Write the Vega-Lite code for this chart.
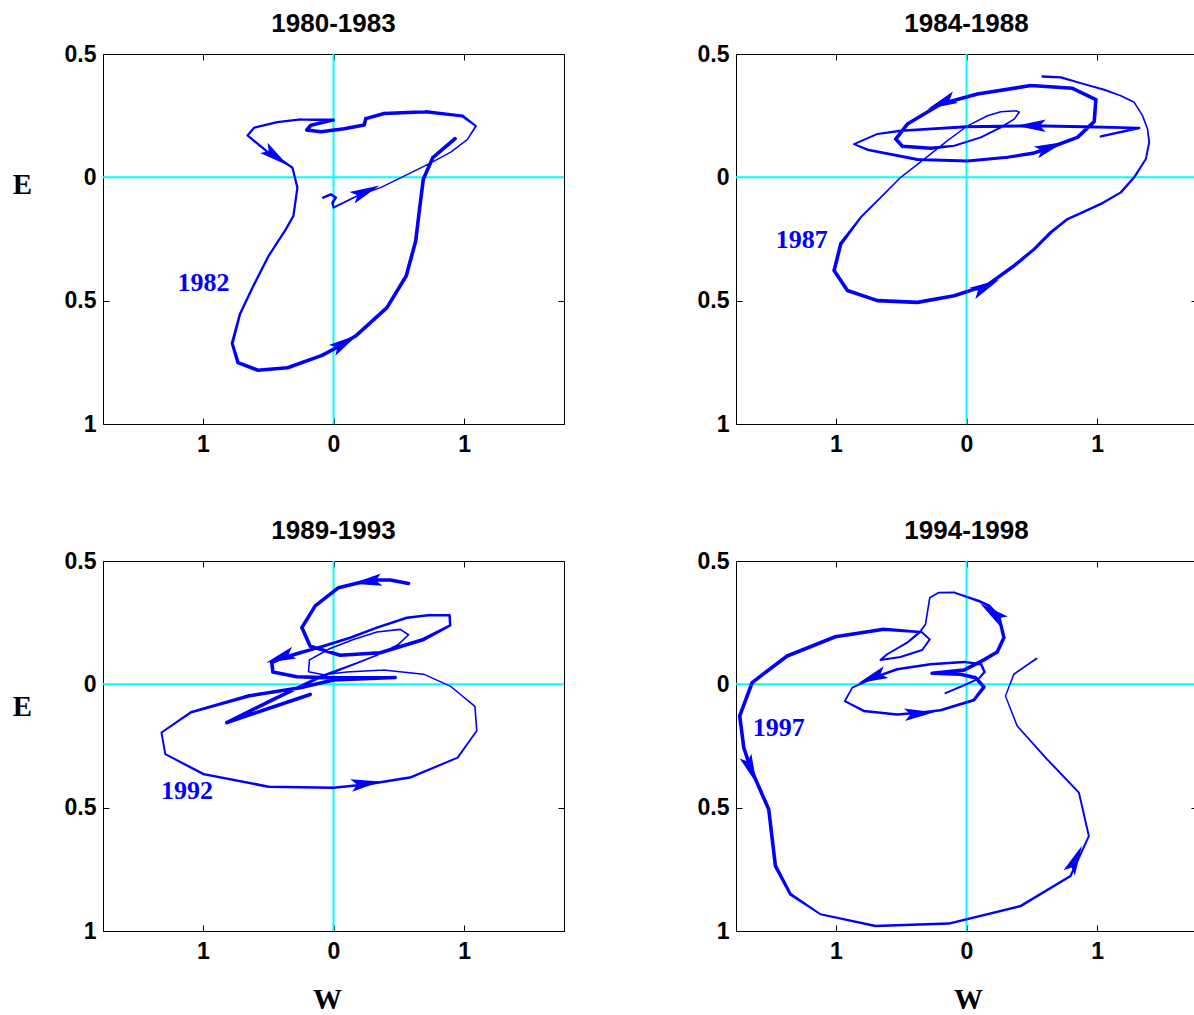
{
  "$schema": "https://vega.github.io/schema/vega-lite/v6.json",
  "background": "white",
  "padding": {"left": 11, "top": 10, "right": 0, "bottom": 8},
  "config": {
    "view": {"stroke": "black", "strokeWidth": 1},
    "axis": {"grid": false, "domain": false, "tickColor": "black", "tickSize": -6, "labelFont": "Liberation Sans", "labelFontSize": 23, "labelFontWeight": "bold", "labelColor": "black", "labelFlush": false, "labelOverlap": false, "titleFont": "Liberation Serif", "titleFontSize": 29, "titleFontWeight": "bold", "titleColor": "black"},
    "title": {"font": "Liberation Sans", "fontSize": 26, "fontWeight": "bold", "color": "black", "offset": 6, "baseline": "alphabetic", "anchor": "middle"}
  },
  "datasets": {
    "paths": [
      {"panel":"A","i":1,"W":-0.079,"E":-0.082,"amp":2},
      {"panel":"A","i":2,"W":-0.02,"E":-0.069,"amp":2},
      {"panel":"A","i":3,"W":0.018,"E":-0.082,"amp":2},
      {"panel":"A","i":4,"W":-0.008,"E":-0.103,"amp":2},
      {"panel":"A","i":5,"W":0.0,"E":-0.123,"amp":1.5},
      {"panel":"A","i":6,"W":0.18,"E":-0.076,"amp":1.2},
      {"panel":"A","i":7,"W":0.36,"E":-0.042,"amp":1},
      {"panel":"A","i":8,"W":0.54,"E":0.005,"amp":1},
      {"panel":"A","i":9,"W":0.745,"E":0.059,"amp":1},
      {"panel":"A","i":10,"W":0.9,"E":0.103,"amp":1},
      {"panel":"A","i":11,"W":1.025,"E":0.154,"amp":1},
      {"panel":"A","i":12,"W":1.09,"E":0.208,"amp":1.5},
      {"panel":"A","i":13,"W":0.987,"E":0.249,"amp":2.5},
      {"panel":"A","i":14,"W":0.706,"E":0.266,"amp":3},
      {"panel":"A","i":15,"W":0.388,"E":0.259,"amp":3},
      {"panel":"A","i":16,"W":0.247,"E":0.238,"amp":3},
      {"panel":"A","i":17,"W":0.235,"E":0.212,"amp":3},
      {"panel":"A","i":18,"W":0.082,"E":0.197,"amp":3},
      {"panel":"A","i":19,"W":-0.097,"E":0.185,"amp":3},
      {"panel":"A","i":20,"W":-0.204,"E":0.192,"amp":3},
      {"panel":"A","i":21,"W":-0.173,"E":0.211,"amp":3},
      {"panel":"A","i":22,"W":0.0,"E":0.232,"amp":2.5},
      {"panel":"A","i":23,"W":-0.25,"E":0.235,"amp":1.8},
      {"panel":"A","i":24,"W":-0.43,"E":0.224,"amp":1.8},
      {"panel":"A","i":25,"W":-0.607,"E":0.201,"amp":1.8},
      {"panel":"A","i":26,"W":-0.658,"E":0.17,"amp":1.8},
      {"panel":"A","i":27,"W":-0.505,"E":0.103,"amp":1.8},
      {"panel":"A","i":28,"W":-0.378,"E":0.062,"amp":1.8},
      {"panel":"A","i":29,"W":-0.314,"E":0.039,"amp":1.8},
      {"panel":"A","i":30,"W":-0.276,"E":-0.042,"amp":1.8},
      {"panel":"A","i":31,"W":-0.307,"E":-0.157,"amp":1.8},
      {"panel":"A","i":32,"W":-0.365,"E":-0.211,"amp":1.8},
      {"panel":"A","i":33,"W":-0.497,"E":-0.319,"amp":1.8},
      {"panel":"A","i":34,"W":-0.614,"E":-0.441,"amp":1.8},
      {"panel":"A","i":35,"W":-0.716,"E":-0.555,"amp":2},
      {"panel":"A","i":36,"W":-0.775,"E":-0.673,"amp":2.5},
      {"panel":"A","i":37,"W":-0.731,"E":-0.751,"amp":3},
      {"panel":"A","i":38,"W":-0.579,"E":-0.782,"amp":3},
      {"panel":"A","i":39,"W":-0.351,"E":-0.772,"amp":3},
      {"panel":"A","i":40,"W":-0.088,"E":-0.722,"amp":3},
      {"panel":"A","i":41,"W":0.0,"E":-0.697,"amp":3},
      {"panel":"A","i":42,"W":0.175,"E":-0.641,"amp":3},
      {"panel":"A","i":43,"W":0.409,"E":-0.528,"amp":3},
      {"panel":"A","i":44,"W":0.556,"E":-0.4,"amp":3},
      {"panel":"A","i":45,"W":0.629,"E":-0.258,"amp":3},
      {"panel":"A","i":46,"W":0.658,"E":-0.13,"amp":3},
      {"panel":"A","i":47,"W":0.687,"E":-0.008,"amp":3},
      {"panel":"A","i":48,"W":0.76,"E":0.08,"amp":3},
      {"panel":"A","i":49,"W":0.93,"E":0.157,"amp":3},

      {"panel":"B","i":1,"W":1.028,"E":0.166,"amp":2},
      {"panel":"B","i":2,"W":1.321,"E":0.2,"amp":2},
      {"panel":"B","i":3,"W":0.9,"E":0.205,"amp":2.5},
      {"panel":"B","i":4,"W":0.492,"E":0.209,"amp":2.5},
      {"panel":"B","i":5,"W":0.0,"E":0.205,"amp":2.5},
      {"panel":"B","i":6,"W":-0.503,"E":0.189,"amp":2},
      {"panel":"B","i":7,"W":-0.681,"E":0.176,"amp":1.5},
      {"panel":"B","i":8,"W":-0.86,"E":0.135,"amp":1.5},
      {"panel":"B","i":9,"W":-0.758,"E":0.112,"amp":2},
      {"panel":"B","i":10,"W":-0.375,"E":0.072,"amp":2.5},
      {"panel":"B","i":11,"W":0.008,"E":0.066,"amp":2.5},
      {"panel":"B","i":12,"W":0.314,"E":0.081,"amp":2.5},
      {"panel":"B","i":13,"W":0.518,"E":0.099,"amp":3},
      {"panel":"B","i":14,"W":0.645,"E":0.122,"amp":3},
      {"panel":"B","i":15,"W":0.849,"E":0.162,"amp":3},
      {"panel":"B","i":16,"W":0.977,"E":0.226,"amp":3},
      {"panel":"B","i":17,"W":0.99,"E":0.315,"amp":3},
      {"panel":"B","i":18,"W":0.811,"E":0.361,"amp":3},
      {"panel":"B","i":19,"W":0.492,"E":0.372,"amp":3},
      {"panel":"B","i":20,"W":0.084,"E":0.338,"amp":3},
      {"panel":"B","i":21,"W":-0.196,"E":0.297,"amp":3},
      {"panel":"B","i":22,"W":-0.452,"E":0.216,"amp":3},
      {"panel":"B","i":23,"W":-0.541,"E":0.155,"amp":3},
      {"panel":"B","i":24,"W":-0.49,"E":0.126,"amp":3},
      {"panel":"B","i":25,"W":-0.273,"E":0.118,"amp":3},
      {"panel":"B","i":26,"W":-0.094,"E":0.128,"amp":1.5},
      {"panel":"B","i":27,"W":0.11,"E":0.162,"amp":1.5},
      {"panel":"B","i":28,"W":0.263,"E":0.203,"amp":1.5},
      {"panel":"B","i":29,"W":0.365,"E":0.236,"amp":1.2},
      {"panel":"B","i":30,"W":0.403,"E":0.264,"amp":1.2},
      {"panel":"B","i":31,"W":0.378,"E":0.27,"amp":1.2},
      {"panel":"B","i":32,"W":0.263,"E":0.266,"amp":1.2},
      {"panel":"B","i":33,"W":0.161,"E":0.25,"amp":1.2},
      {"panel":"B","i":34,"W":0.008,"E":0.209,"amp":1},
      {"panel":"B","i":35,"W":-0.145,"E":0.149,"amp":1},
      {"panel":"B","i":36,"W":-0.324,"E":0.074,"amp":1},
      {"panel":"B","i":37,"W":-0.503,"E":0.0,"amp":1},
      {"panel":"B","i":38,"W":-0.656,"E":-0.081,"amp":1.2},
      {"panel":"B","i":39,"W":-0.809,"E":-0.162,"amp":1.5},
      {"panel":"B","i":40,"W":-0.962,"E":-0.27,"amp":3},
      {"panel":"B","i":41,"W":-1.013,"E":-0.378,"amp":3},
      {"panel":"B","i":42,"W":-0.911,"E":-0.459,"amp":3},
      {"panel":"B","i":43,"W":-0.681,"E":-0.5,"amp":3},
      {"panel":"B","i":44,"W":-0.375,"E":-0.507,"amp":3},
      {"panel":"B","i":45,"W":-0.094,"E":-0.48,"amp":3},
      {"panel":"B","i":46,"W":0.161,"E":-0.436,"amp":3},
      {"panel":"B","i":47,"W":0.365,"E":-0.358,"amp":3},
      {"panel":"B","i":48,"W":0.518,"E":-0.291,"amp":2.5},
      {"panel":"B","i":49,"W":0.645,"E":-0.223,"amp":2.5},
      {"panel":"B","i":50,"W":0.773,"E":-0.169,"amp":2},
      {"panel":"B","i":51,"W":0.9,"E":-0.139,"amp":2},
      {"panel":"B","i":52,"W":1.028,"E":-0.108,"amp":2},
      {"panel":"B","i":53,"W":1.181,"E":-0.061,"amp":1.8},
      {"panel":"B","i":54,"W":1.283,"E":0.0,"amp":1.8},
      {"panel":"B","i":55,"W":1.372,"E":0.074,"amp":1.5},
      {"panel":"B","i":56,"W":1.398,"E":0.142,"amp":1.5},
      {"panel":"B","i":57,"W":1.385,"E":0.196,"amp":1.2},
      {"panel":"B","i":58,"W":1.347,"E":0.25,"amp":1.2},
      {"panel":"B","i":59,"W":1.283,"E":0.304,"amp":1.2},
      {"panel":"B","i":60,"W":1.181,"E":0.331,"amp":1.2},
      {"panel":"B","i":61,"W":1.054,"E":0.355,"amp":1.5},
      {"panel":"B","i":62,"W":0.9,"E":0.378,"amp":1.5},
      {"panel":"B","i":63,"W":0.722,"E":0.405,"amp":1.8},
      {"panel":"B","i":64,"W":0.582,"E":0.409,"amp":2},

      {"panel":"C","i":1,"W":0.574,"E":0.409,"amp":3},
      {"panel":"C","i":2,"W":0.434,"E":0.423,"amp":3},
      {"panel":"C","i":3,"W":0.281,"E":0.423,"amp":3},
      {"panel":"C","i":4,"W":0.038,"E":0.392,"amp":3},
      {"panel":"C","i":5,"W":-0.14,"E":0.318,"amp":3},
      {"panel":"C","i":6,"W":-0.242,"E":0.23,"amp":3},
      {"panel":"C","i":7,"W":-0.179,"E":0.155,"amp":3},
      {"panel":"C","i":8,"W":0.051,"E":0.118,"amp":3},
      {"panel":"C","i":9,"W":0.357,"E":0.128,"amp":3},
      {"panel":"C","i":10,"W":0.689,"E":0.182,"amp":3},
      {"panel":"C","i":11,"W":0.893,"E":0.239,"amp":2},
      {"panel":"C","i":12,"W":0.888,"E":0.28,"amp":2},
      {"panel":"C","i":13,"W":0.74,"E":0.281,"amp":2},
      {"panel":"C","i":14,"W":0.561,"E":0.27,"amp":2},
      {"panel":"C","i":15,"W":0.332,"E":0.23,"amp":2},
      {"panel":"C","i":16,"W":0.128,"E":0.189,"amp":2},
      {"panel":"C","i":17,"W":-0.077,"E":0.155,"amp":2.5},
      {"panel":"C","i":18,"W":-0.255,"E":0.128,"amp":3},
      {"panel":"C","i":19,"W":-0.408,"E":0.104,"amp":3},
      {"panel":"C","i":20,"W":-0.472,"E":0.088,"amp":3},
      {"panel":"C","i":21,"W":-0.464,"E":0.05,"amp":3},
      {"panel":"C","i":22,"W":-0.281,"E":0.031,"amp":3},
      {"panel":"C","i":23,"W":0.0,"E":0.026,"amp":3},
      {"panel":"C","i":24,"W":0.472,"E":0.028,"amp":3},
      {"panel":"C","i":25,"W":0.0,"E":0.018,"amp":3},
      {"panel":"C","i":26,"W":-0.255,"E":-0.014,"amp":3},
      {"panel":"C","i":27,"W":-0.651,"E":-0.047,"amp":3},
      {"panel":"C","i":28,"W":-1.09,"E":-0.113,"amp":2},
      {"panel":"C","i":29,"W":-1.316,"E":-0.195,"amp":1.5},
      {"panel":"C","i":30,"W":-1.287,"E":-0.283,"amp":1.5},
      {"panel":"C","i":31,"W":-0.994,"E":-0.364,"amp":2},
      {"panel":"C","i":32,"W":-0.497,"E":-0.415,"amp":2},
      {"panel":"C","i":33,"W":0.0,"E":-0.419,"amp":2},
      {"panel":"C","i":34,"W":0.263,"E":-0.405,"amp":2},
      {"panel":"C","i":35,"W":0.585,"E":-0.378,"amp":2},
      {"panel":"C","i":36,"W":0.95,"E":-0.297,"amp":1.5},
      {"panel":"C","i":37,"W":1.096,"E":-0.188,"amp":1.2},
      {"panel":"C","i":38,"W":1.082,"E":-0.089,"amp":1.2},
      {"panel":"C","i":39,"W":0.893,"E":-0.007,"amp":1},
      {"panel":"C","i":40,"W":0.689,"E":0.041,"amp":1},
      {"panel":"C","i":41,"W":0.383,"E":0.058,"amp":1},
      {"panel":"C","i":42,"W":0.102,"E":0.05,"amp":1},
      {"panel":"C","i":43,"W":-0.077,"E":0.039,"amp":1},
      {"panel":"C","i":44,"W":-0.191,"E":0.051,"amp":1.2},
      {"panel":"C","i":45,"W":-0.184,"E":0.099,"amp":1.2},
      {"panel":"C","i":46,"W":-0.026,"E":0.145,"amp":1.2},
      {"panel":"C","i":47,"W":0.153,"E":0.182,"amp":1.2},
      {"panel":"C","i":48,"W":0.332,"E":0.212,"amp":1.2},
      {"panel":"C","i":49,"W":0.51,"E":0.223,"amp":1.2},
      {"panel":"C","i":50,"W":0.574,"E":0.201,"amp":1.2},
      {"panel":"C","i":51,"W":0.497,"E":0.162,"amp":1.2},
      {"panel":"C","i":52,"W":0.332,"E":0.118,"amp":1.2},
      {"panel":"C","i":53,"W":0.153,"E":0.081,"amp":1.5},
      {"panel":"C","i":54,"W":-0.1,"E":0.03,"amp":2.5},
      {"panel":"C","i":55,"W":-0.459,"E":-0.061,"amp":3},
      {"panel":"C","i":56,"W":-0.816,"E":-0.155,"amp":3},
      {"panel":"C","i":57,"W":-0.179,"E":-0.041,"amp":3},

      {"panel":"D","i":1,"W":-0.161,"E":-0.036,"amp":1.5},
      {"panel":"D","i":2,"W":-0.02,"E":-0.004,"amp":1.5},
      {"panel":"D","i":3,"W":0.094,"E":0.023,"amp":1.5},
      {"panel":"D","i":4,"W":0.138,"E":0.05,"amp":2},
      {"panel":"D","i":5,"W":0.112,"E":0.081,"amp":2},
      {"panel":"D","i":6,"W":-0.02,"E":0.091,"amp":2},
      {"panel":"D","i":7,"W":-0.276,"E":0.081,"amp":2},
      {"panel":"D","i":8,"W":-0.531,"E":0.061,"amp":2},
      {"panel":"D","i":9,"W":-0.709,"E":0.027,"amp":2},
      {"panel":"D","i":10,"W":-0.875,"E":-0.014,"amp":1.2},
      {"panel":"D","i":11,"W":-0.931,"E":-0.068,"amp":1.5},
      {"panel":"D","i":12,"W":-0.786,"E":-0.108,"amp":2},
      {"panel":"D","i":13,"W":-0.531,"E":-0.122,"amp":2},
      {"panel":"D","i":14,"W":-0.365,"E":-0.115,"amp":2},
      {"panel":"D","i":15,"W":-0.199,"E":-0.105,"amp":2},
      {"panel":"D","i":16,"W":0.056,"E":-0.064,"amp":2.5},
      {"panel":"D","i":17,"W":0.133,"E":-0.011,"amp":3},
      {"panel":"D","i":18,"W":0.069,"E":0.027,"amp":3},
      {"panel":"D","i":19,"W":-0.046,"E":0.041,"amp":3},
      {"panel":"D","i":20,"W":-0.263,"E":0.045,"amp":3},
      {"panel":"D","i":21,"W":-0.02,"E":0.058,"amp":3},
      {"panel":"D","i":22,"W":0.133,"E":0.099,"amp":3},
      {"panel":"D","i":23,"W":0.235,"E":0.131,"amp":3},
      {"panel":"D","i":24,"W":0.286,"E":0.189,"amp":3},
      {"panel":"D","i":25,"W":0.247,"E":0.277,"amp":2.5},
      {"panel":"D","i":26,"W":0.171,"E":0.318,"amp":2.5},
      {"panel":"D","i":27,"W":0.094,"E":0.338,"amp":2},
      {"panel":"D","i":28,"W":-0.092,"E":0.372,"amp":1.5},
      {"panel":"D","i":29,"W":-0.212,"E":0.372,"amp":1.2},
      {"panel":"D","i":30,"W":-0.281,"E":0.351,"amp":1.2},
      {"panel":"D","i":31,"W":-0.314,"E":0.243,"amp":1.2},
      {"panel":"D","i":32,"W":-0.352,"E":0.216,"amp":1.5},
      {"panel":"D","i":33,"W":-0.281,"E":0.182,"amp":1.5},
      {"panel":"D","i":34,"W":-0.339,"E":0.139,"amp":1.5},
      {"panel":"D","i":35,"W":-0.505,"E":0.111,"amp":1.5},
      {"panel":"D","i":36,"W":-0.658,"E":0.099,"amp":1.5},
      {"panel":"D","i":37,"W":-0.607,"E":0.122,"amp":1.5},
      {"panel":"D","i":38,"W":-0.454,"E":0.169,"amp":1.5},
      {"panel":"D","i":39,"W":-0.357,"E":0.212,"amp":2},
      {"panel":"D","i":40,"W":-0.633,"E":0.223,"amp":3},
      {"panel":"D","i":41,"W":-1.003,"E":0.193,"amp":3},
      {"panel":"D","i":42,"W":-1.372,"E":0.115,"amp":3},
      {"panel":"D","i":43,"W":-1.64,"E":0.007,"amp":3},
      {"panel":"D","i":44,"W":-1.735,"E":-0.128,"amp":3},
      {"panel":"D","i":45,"W":-1.704,"E":-0.257,"amp":3},
      {"panel":"D","i":46,"W":-1.653,"E":-0.338,"amp":3},
      {"panel":"D","i":47,"W":-1.513,"E":-0.507,"amp":3},
      {"panel":"D","i":48,"W":-1.462,"E":-0.736,"amp":3},
      {"panel":"D","i":49,"W":-1.347,"E":-0.851,"amp":2.5},
      {"panel":"D","i":50,"W":-1.117,"E":-0.932,"amp":1.5},
      {"panel":"D","i":51,"W":-0.696,"E":-0.98,"amp":2},
      {"panel":"D","i":52,"W":-0.135,"E":-0.97,"amp":2},
      {"panel":"D","i":53,"W":0.413,"E":-0.899,"amp":2},
      {"panel":"D","i":54,"W":0.796,"E":-0.777,"amp":1.8},
      {"panel":"D","i":55,"W":0.936,"E":-0.615,"amp":1.5},
      {"panel":"D","i":56,"W":0.86,"E":-0.439,"amp":1.5},
      {"panel":"D","i":57,"W":0.617,"E":-0.304,"amp":1.5},
      {"panel":"D","i":58,"W":0.388,"E":-0.169,"amp":1.2},
      {"panel":"D","i":59,"W":0.298,"E":-0.047,"amp":1},
      {"panel":"D","i":60,"W":0.362,"E":0.041,"amp":1.2},
      {"panel":"D","i":61,"W":0.536,"E":0.105,"amp":1.5}
    ],
    "arrows": [
      {"panel":"A","W":-0.44,"E":0.084,"dir":36},
      {"panel":"A","W":0.247,"E":-0.058,"dir":336},
      {"panel":"A","W":0.088,"E":-0.67,"dir":329},
      {"panel":"B","W":0.492,"E":0.209,"dir":180},
      {"panel":"B","W":-0.191,"E":0.301,"dir":157},
      {"panel":"B","W":0.64,"E":0.122,"dir":340},
      {"panel":"B","W":0.148,"E":-0.443,"dir":333},
      {"panel":"C","W":0.255,"E":0.416,"dir":172},
      {"panel":"C","W":-0.408,"E":0.108,"dir":160},
      {"panel":"C","W":0.249,"E":-0.402,"dir":352},
      {"panel":"D","W":0.196,"E":0.291,"dir":217},
      {"panel":"D","W":-0.722,"E":0.027,"dir":158},
      {"panel":"D","W":-0.36,"E":-0.118,"dir":355},
      {"panel":"D","W":-1.648,"E":-0.347,"dir":68},
      {"panel":"D","W":0.834,"E":-0.709,"dir":295}
    ],
    "labels": [
      {"panel":"A","W":-0.994,"E":-0.427,"text":"1982"},
      {"panel":"B","W":-1.261,"E":-0.254,"text":"1987"},
      {"panel":"C","W":-1.12,"E":-0.432,"text":"1992"},
      {"panel":"D","W":-1.436,"E":-0.178,"text":"1997"}
    ],
    "origin": [{"zero": 0}]
  },
  "columns": 2,
  "spacing": {"row": 137, "column": 172},
  "bounds": "flush",
  "concat": [
    {
      "width": 461, "height": 370,
      "title": "1980-1983",
      "resolve": {"axis": {"x": "independent", "y": "independent"}},
      "layer": [
        {"data": {"name": "origin"}, "mark": {"type": "rule", "color": "#00FFFF", "strokeWidth": 2}, "encoding": {"x": {"field": "zero", "type": "quantitative", "scale": {"domain": [-1.7635, 1.7635], "nice": false, "zero": false}, "axis": {"orient": "top", "values": [-1, 0, 1], "labels": false, "title": null}}}},
        {"data": {"name": "origin"}, "mark": {"type": "rule", "color": "#00FFFF", "strokeWidth": 2}, "encoding": {"y": {"field": "zero", "type": "quantitative", "scale": {"domain": [-1, 0.5], "nice": false, "zero": false}, "axis": {"orient": "right", "values": [-1, -0.5, 0, 0.5], "labels": false, "title": null}}}},
        {"data": {"name": "paths"}, "transform": [{"filter": "datum.panel == 'A'"}], "mark": {"type": "trail", "color": "#0000FF"},
         "encoding": {
           "x": {"field": "W", "type": "quantitative", "scale": {"domain": [-1.7635, 1.7635], "nice": false, "zero": false}, "axis": {"orient": "bottom", "values": [-1, 0, 1], "labelExpr": "'' + abs(datum.value)", "labelPadding": 15, "title": null}},
           "y": {"field": "E", "type": "quantitative", "scale": {"domain": [-1, 0.5], "nice": false, "zero": false}, "axis": {"orient": "left", "values": [-1, -0.5, 0, 0.5], "labelExpr": "'' + abs(datum.value)", "labelPadding": 13, "title": "E", "titleAngle": 0, "titleAlign": "center", "titleBaseline": "middle", "titleX": -81, "titleY": 130}},
           "order": {"field": "i", "type": "quantitative"},
           "size": {"field": "amp", "type": "quantitative", "scale": {"domain": [1, 3], "range": [1.4, 3.6]}, "legend": null}}},
        {"data": {"name": "arrows"}, "transform": [{"filter": "datum.panel == 'A'"}], "mark": {"type": "point", "filled": true, "color": "#0000FF", "opacity": 1, "shape": "M1,0L-1,-0.42L-0.6,0L-1,0.42Z", "size": 900},
         "encoding": {"x": {"field": "W", "type": "quantitative", "axis": null}, "y": {"field": "E", "type": "quantitative", "axis": null}, "angle": {"field": "dir", "type": "quantitative", "scale": null}}},
        {"data": {"name": "labels"}, "transform": [{"filter": "datum.panel == 'A'"}], "mark": {"type": "text", "color": "#0000FF", "font": "Liberation Serif", "fontSize": 26, "fontWeight": "bold", "align": "center", "baseline": "middle"},
         "encoding": {"x": {"field": "W", "type": "quantitative", "axis": null}, "y": {"field": "E", "type": "quantitative", "axis": null}, "text": {"field": "text"}}}
      ]
    },
    {
      "width": 461, "height": 370,
      "title": "1984-1988",
      "resolve": {"axis": {"x": "independent", "y": "independent"}},
      "layer": [
        {"data": {"name": "origin"}, "mark": {"type": "rule", "color": "#00FFFF", "strokeWidth": 2}, "encoding": {"x": {"field": "zero", "type": "quantitative", "scale": {"domain": [-1.7635, 1.7635], "nice": false, "zero": false}, "axis": {"orient": "top", "values": [-1, 0, 1], "labels": false, "title": null}}}},
        {"data": {"name": "origin"}, "mark": {"type": "rule", "color": "#00FFFF", "strokeWidth": 2}, "encoding": {"y": {"field": "zero", "type": "quantitative", "scale": {"domain": [-1, 0.5], "nice": false, "zero": false}, "axis": {"orient": "right", "values": [-1, -0.5, 0, 0.5], "labels": false, "title": null}}}},
        {"data": {"name": "paths"}, "transform": [{"filter": "datum.panel == 'B'"}], "mark": {"type": "trail", "color": "#0000FF"},
         "encoding": {
           "x": {"field": "W", "type": "quantitative", "scale": {"domain": [-1.7635, 1.7635], "nice": false, "zero": false}, "axis": {"orient": "bottom", "values": [-1, 0, 1], "labelExpr": "'' + abs(datum.value)", "labelPadding": 15, "title": null}},
           "y": {"field": "E", "type": "quantitative", "scale": {"domain": [-1, 0.5], "nice": false, "zero": false}, "axis": {"orient": "left", "values": [-1, -0.5, 0, 0.5], "labelExpr": "'' + abs(datum.value)", "labelPadding": 13, "title": null}},
           "order": {"field": "i", "type": "quantitative"},
           "size": {"field": "amp", "type": "quantitative", "scale": {"domain": [1, 3], "range": [1.4, 3.6]}, "legend": null}}},
        {"data": {"name": "arrows"}, "transform": [{"filter": "datum.panel == 'B'"}], "mark": {"type": "point", "filled": true, "color": "#0000FF", "opacity": 1, "shape": "M1,0L-1,-0.42L-0.6,0L-1,0.42Z", "size": 900},
         "encoding": {"x": {"field": "W", "type": "quantitative", "axis": null}, "y": {"field": "E", "type": "quantitative", "axis": null}, "angle": {"field": "dir", "type": "quantitative", "scale": null}}},
        {"data": {"name": "labels"}, "transform": [{"filter": "datum.panel == 'B'"}], "mark": {"type": "text", "color": "#0000FF", "font": "Liberation Serif", "fontSize": 26, "fontWeight": "bold", "align": "center", "baseline": "middle"},
         "encoding": {"x": {"field": "W", "type": "quantitative", "axis": null}, "y": {"field": "E", "type": "quantitative", "axis": null}, "text": {"field": "text"}}}
      ]
    },
    {
      "width": 461, "height": 370,
      "title": "1989-1993",
      "resolve": {"axis": {"x": "independent", "y": "independent"}},
      "layer": [
        {"data": {"name": "origin"}, "mark": {"type": "rule", "color": "#00FFFF", "strokeWidth": 2}, "encoding": {"x": {"field": "zero", "type": "quantitative", "scale": {"domain": [-1.7635, 1.7635], "nice": false, "zero": false}, "axis": {"orient": "top", "values": [-1, 0, 1], "labels": false, "title": null}}}},
        {"data": {"name": "origin"}, "mark": {"type": "rule", "color": "#00FFFF", "strokeWidth": 2}, "encoding": {"y": {"field": "zero", "type": "quantitative", "scale": {"domain": [-1, 0.5], "nice": false, "zero": false}, "axis": {"orient": "right", "values": [-1, -0.5, 0, 0.5], "labels": false, "title": null}}}},
        {"data": {"name": "paths"}, "transform": [{"filter": "datum.panel == 'C'"}], "mark": {"type": "trail", "color": "#0000FF"},
         "encoding": {
           "x": {"field": "W", "type": "quantitative", "scale": {"domain": [-1.7635, 1.7635], "nice": false, "zero": false}, "axis": {"orient": "bottom", "values": [-1, 0, 1], "labelExpr": "'' + abs(datum.value)", "labelPadding": 15, "title": "W", "titleAlign": "center", "titleBaseline": "middle", "titleX": 224, "titleY": 68}},
           "y": {"field": "E", "type": "quantitative", "scale": {"domain": [-1, 0.5], "nice": false, "zero": false}, "axis": {"orient": "left", "values": [-1, -0.5, 0, 0.5], "labelExpr": "'' + abs(datum.value)", "labelPadding": 13, "title": "E", "titleAngle": 0, "titleAlign": "center", "titleBaseline": "middle", "titleX": -81, "titleY": 145}},
           "order": {"field": "i", "type": "quantitative"},
           "size": {"field": "amp", "type": "quantitative", "scale": {"domain": [1, 3], "range": [1.4, 3.6]}, "legend": null}}},
        {"data": {"name": "arrows"}, "transform": [{"filter": "datum.panel == 'C'"}], "mark": {"type": "point", "filled": true, "color": "#0000FF", "opacity": 1, "shape": "M1,0L-1,-0.42L-0.6,0L-1,0.42Z", "size": 900},
         "encoding": {"x": {"field": "W", "type": "quantitative", "axis": null}, "y": {"field": "E", "type": "quantitative", "axis": null}, "angle": {"field": "dir", "type": "quantitative", "scale": null}}},
        {"data": {"name": "labels"}, "transform": [{"filter": "datum.panel == 'C'"}], "mark": {"type": "text", "color": "#0000FF", "font": "Liberation Serif", "fontSize": 26, "fontWeight": "bold", "align": "center", "baseline": "middle"},
         "encoding": {"x": {"field": "W", "type": "quantitative", "axis": null}, "y": {"field": "E", "type": "quantitative", "axis": null}, "text": {"field": "text"}}}
      ]
    },
    {
      "width": 461, "height": 370,
      "title": "1994-1998",
      "resolve": {"axis": {"x": "independent", "y": "independent"}},
      "layer": [
        {"data": {"name": "origin"}, "mark": {"type": "rule", "color": "#00FFFF", "strokeWidth": 2}, "encoding": {"x": {"field": "zero", "type": "quantitative", "scale": {"domain": [-1.7635, 1.7635], "nice": false, "zero": false}, "axis": {"orient": "top", "values": [-1, 0, 1], "labels": false, "title": null}}}},
        {"data": {"name": "origin"}, "mark": {"type": "rule", "color": "#00FFFF", "strokeWidth": 2}, "encoding": {"y": {"field": "zero", "type": "quantitative", "scale": {"domain": [-1, 0.5], "nice": false, "zero": false}, "axis": {"orient": "right", "values": [-1, -0.5, 0, 0.5], "labels": false, "title": null}}}},
        {"data": {"name": "paths"}, "transform": [{"filter": "datum.panel == 'D'"}], "mark": {"type": "trail", "color": "#0000FF"},
         "encoding": {
           "x": {"field": "W", "type": "quantitative", "scale": {"domain": [-1.7635, 1.7635], "nice": false, "zero": false}, "axis": {"orient": "bottom", "values": [-1, 0, 1], "labelExpr": "'' + abs(datum.value)", "labelPadding": 15, "title": "W", "titleAlign": "center", "titleBaseline": "middle", "titleX": 232, "titleY": 68}},
           "y": {"field": "E", "type": "quantitative", "scale": {"domain": [-1, 0.5], "nice": false, "zero": false}, "axis": {"orient": "left", "values": [-1, -0.5, 0, 0.5], "labelExpr": "'' + abs(datum.value)", "labelPadding": 13, "title": null}},
           "order": {"field": "i", "type": "quantitative"},
           "size": {"field": "amp", "type": "quantitative", "scale": {"domain": [1, 3], "range": [1.4, 3.6]}, "legend": null}}},
        {"data": {"name": "arrows"}, "transform": [{"filter": "datum.panel == 'D'"}], "mark": {"type": "point", "filled": true, "color": "#0000FF", "opacity": 1, "shape": "M1,0L-1,-0.42L-0.6,0L-1,0.42Z", "size": 900},
         "encoding": {"x": {"field": "W", "type": "quantitative", "axis": null}, "y": {"field": "E", "type": "quantitative", "axis": null}, "angle": {"field": "dir", "type": "quantitative", "scale": null}}},
        {"data": {"name": "labels"}, "transform": [{"filter": "datum.panel == 'D'"}], "mark": {"type": "text", "color": "#0000FF", "font": "Liberation Serif", "fontSize": 26, "fontWeight": "bold", "align": "center", "baseline": "middle"},
         "encoding": {"x": {"field": "W", "type": "quantitative", "axis": null}, "y": {"field": "E", "type": "quantitative", "axis": null}, "text": {"field": "text"}}}
      ]
    }
  ]
}
